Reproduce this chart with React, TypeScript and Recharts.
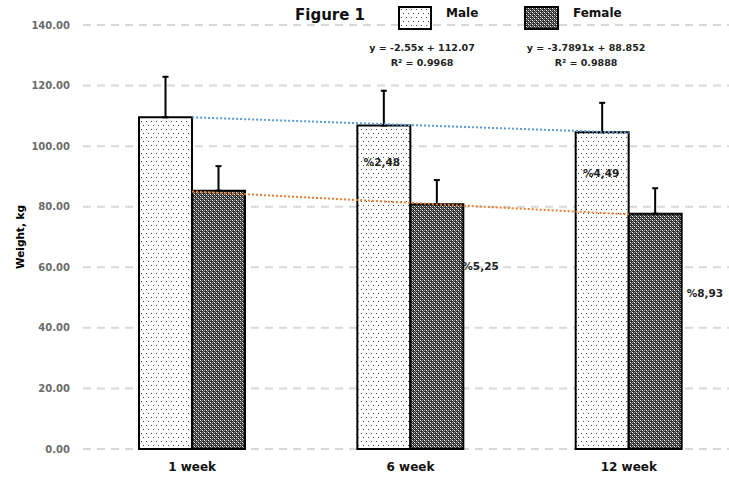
import React from 'react';
import {
  ComposedChart,
  Bar,
  Line,
  XAxis,
  YAxis,
  CartesianGrid,
  ErrorBar,
  LabelList,
  Legend,
} from 'recharts';

// Body weight by sampling week
const weeks = ['1 week', '6 week', '12 week'];
const maleWeight = [109.5, 106.8, 104.6];
const femaleWeight = [85.3, 80.8, 77.7];
const maleSd = [13.4, 11.5, 9.7];
const femaleSd = [8.1, 8.0, 8.4];

// Relative loss versus week 1
const maleLoss = ['', '%2,48', '%4,49'];
const femaleLoss = ['', '%5,25', '%8,93'];

// Linear trend fits (x = 1, 2, 3)
const maleTrend = { slope: -2.55, intercept: 112.07, r2: '0.9968' };
const femaleTrend = { slope: -3.7891, intercept: 88.852, r2: '0.9888' };

const yTicks = [0, 20, 40, 60, 80, 100, 120, 140];

// Where each loss label sits relative to its bar
const maleLabelPlacement = [null, { dx: -2, dy: 36, anchor: 'middle' }, { dx: -1, dy: 41, anchor: 'middle' }];
const femaleLabelPlacement = [null, { dx: -1, dy: 62, anchor: 'start' }, { dx: 5, dy: 79, anchor: 'start' }];

const FONT = '"DejaVu Sans", sans-serif';

const fmtEq = (t: { slope: number; intercept: number }) =>
  `y = ${t.slope}x + ${t.intercept}`;

const rows = weeks.map((week, i) => ({
  week,
  male: maleWeight[i],
  female: femaleWeight[i],
  maleErr: [0, maleSd[i]],
  femaleErr: [0, femaleSd[i]],
  maleFit: maleTrend.slope * (i + 1) + maleTrend.intercept,
  femaleFit: femaleTrend.slope * (i + 1) + femaleTrend.intercept,
}));

const makeLossLabel =
  (texts: string[], placement: any[], side: 'inside' | 'right') =>
  (props: any) => {
    const { x, y, width, index } = props;
    const p = placement[index];
    const txt = texts[index];
    if (!p || !txt) return null;
    const baseX = side === 'inside' ? x + width / 2 : x + width;
    return (
      <text
        x={baseX + p.dx}
        y={y + p.dy}
        textAnchor={p.anchor}
        dominantBaseline="central"
        fontFamily={FONT}
        fontWeight="bold"
        fontSize={10.5}
        fill="#1f1f1f"
      >
        {txt}
      </text>
    );
  };

const HeaderLegend = () => (
  <svg width={729} height={72} style={{ display: 'block' }}>
    <text x={295} y={20} fontFamily={FONT} fontWeight="bold" fontSize={15} fill="#111">
      Figure 1
    </text>
    <rect x={399} y={7} width={32} height={22} fill="url(#maleDots)" stroke="#000" strokeWidth={2} />
    <text x={446} y={17} fontFamily={FONT} fontWeight="bold" fontSize={12} fill="#111">
      Male
    </text>
    <rect x={525} y={7} width={33} height={22} fill="url(#femaleCheck)" stroke="#000" strokeWidth={2} />
    <text x={573} y={17} fontFamily={FONT} fontWeight="bold" fontSize={12} fill="#111">
      Female
    </text>
    <g fontFamily={FONT} fontWeight="bold" fontSize={9.5} fill="#222" textAnchor="middle">
      <text x={422} y={51}>{fmtEq(maleTrend)}</text>
      <text x={422} y={66}>R² = {maleTrend.r2}</text>
      <text x={586} y={51}>{fmtEq(femaleTrend)}</text>
      <text x={586} y={66}>R² = {femaleTrend.r2}</text>
    </g>
  </svg>
);

export default function App() {
  return (
    <div
      style={{
        position: 'fixed',
        left: 0,
        top: 0,
        width: 729,
        height: 481,
        overflow: 'hidden',
        background: '#fff',
      }}
    >
      <svg width={0} height={0} style={{ position: 'absolute' }}>
        <defs>
          <pattern id="maleDots" width={5} height={8} patternUnits="userSpaceOnUse">
            <rect width={5} height={8} fill="#fff" />
            <rect x={1} y={1} width={1} height={1} fill="#444" />
            <rect x={3} y={5} width={1} height={1} fill="#444" />
          </pattern>
          <pattern id="femaleCheck" width={4} height={4} patternUnits="userSpaceOnUse">
            <rect width={4} height={4} fill="#303030" />
            <rect x={0} y={0} width={1} height={1} fill="#fff" />
            <rect x={2} y={2} width={1} height={1} fill="#fff" />
            <rect x={2} y={0} width={1} height={1} fill="#9a9a9a" />
            <rect x={0} y={2} width={1} height={1} fill="#9a9a9a" />
            <rect x={1} y={1} width={1} height={1} fill="#8a8a8a" />
            <rect x={3} y={3} width={1} height={1} fill="#8a8a8a" />
          </pattern>
        </defs>
      </svg>
      <ComposedChart
        width={745}
        height={481}
        data={rows}
        margin={{ top: 25, right: 7, bottom: 0, left: 0 }}
        barGap={0}
      >
        <CartesianGrid
          vertical={false}
          stroke="#d9d9d9"
          strokeWidth={2}
          strokeDasharray="8 6"
        />
        <XAxis
          dataKey="week"
          axisLine={false}
          tickLine={false}
          tickSize={6}
          tickMargin={7}
          height={32}
          tick={{ fontFamily: FONT, fontWeight: 'bold', fontSize: 12, fill: '#111' }}
        />
        <YAxis
          domain={[0, 140]}
          ticks={yTicks}
          interval={0}
          width={83}
          axisLine={false}
          tickLine={false}
          tickSize={6}
          tickMargin={7}
          tickFormatter={(v: number) => v.toFixed(2)}
          tick={{ fontFamily: FONT, fontWeight: 'bold', fontSize: 10, fill: '#6b6b6b' }}
          label={{
            value: 'Weight, kg',
            content: (props: any) => {
              const vb = props.viewBox || { x: 0, y: 25, height: 424 };
              const cx = vb.x + 20;
              const cy = vb.y + vb.height / 2;
              return (
                <text
                  x={cx}
                  y={cy}
                  transform={`rotate(-90 ${cx} ${cy})`}
                  textAnchor="middle"
                  dominantBaseline="central"
                  fontFamily={FONT}
                  fontWeight="bold"
                  fontSize={10.5}
                  fill="#000"
                >
                  Weight, kg
                </text>
              );
            },
          }}
        />
        <Legend
          layout="horizontal"
          verticalAlign="middle"
          align="center"
          wrapperStyle={{ top: 0, left: 0, width: 729, height: 72 }}
          content={() => <HeaderLegend />}
        />
        <Bar
          dataKey="male"
          name="Male"
          barSize={53}
          fill="url(#maleDots)"
          stroke="#000"
          strokeWidth={2}
          isAnimationActive={false}
        >
          <ErrorBar dataKey="maleErr" width={3} stroke="#000" strokeWidth={2} direction="y" />
          <LabelList dataKey="male" content={makeLossLabel(maleLoss, maleLabelPlacement, 'inside')} />
        </Bar>
        <Bar
          dataKey="female"
          name="Female"
          barSize={53}
          fill="url(#femaleCheck)"
          stroke="#000"
          strokeWidth={2}
          isAnimationActive={false}
        >
          <ErrorBar dataKey="femaleErr" width={3} stroke="#000" strokeWidth={2} direction="y" />
          <LabelList dataKey="female" content={makeLossLabel(femaleLoss, femaleLabelPlacement, 'right')} />
        </Bar>
        <Line
          dataKey="maleFit"
          stroke="#5b9bd5"
          strokeWidth={2}
          strokeDasharray="2 2"
          dot={false}
          activeDot={false}
          legendType="none"
          isAnimationActive={false}
        />
        <Line
          dataKey="femaleFit"
          stroke="#ed7d31"
          strokeWidth={2}
          strokeDasharray="2 2"
          dot={false}
          activeDot={false}
          legendType="none"
          isAnimationActive={false}
        />
      </ComposedChart>
    </div>
  );
}
